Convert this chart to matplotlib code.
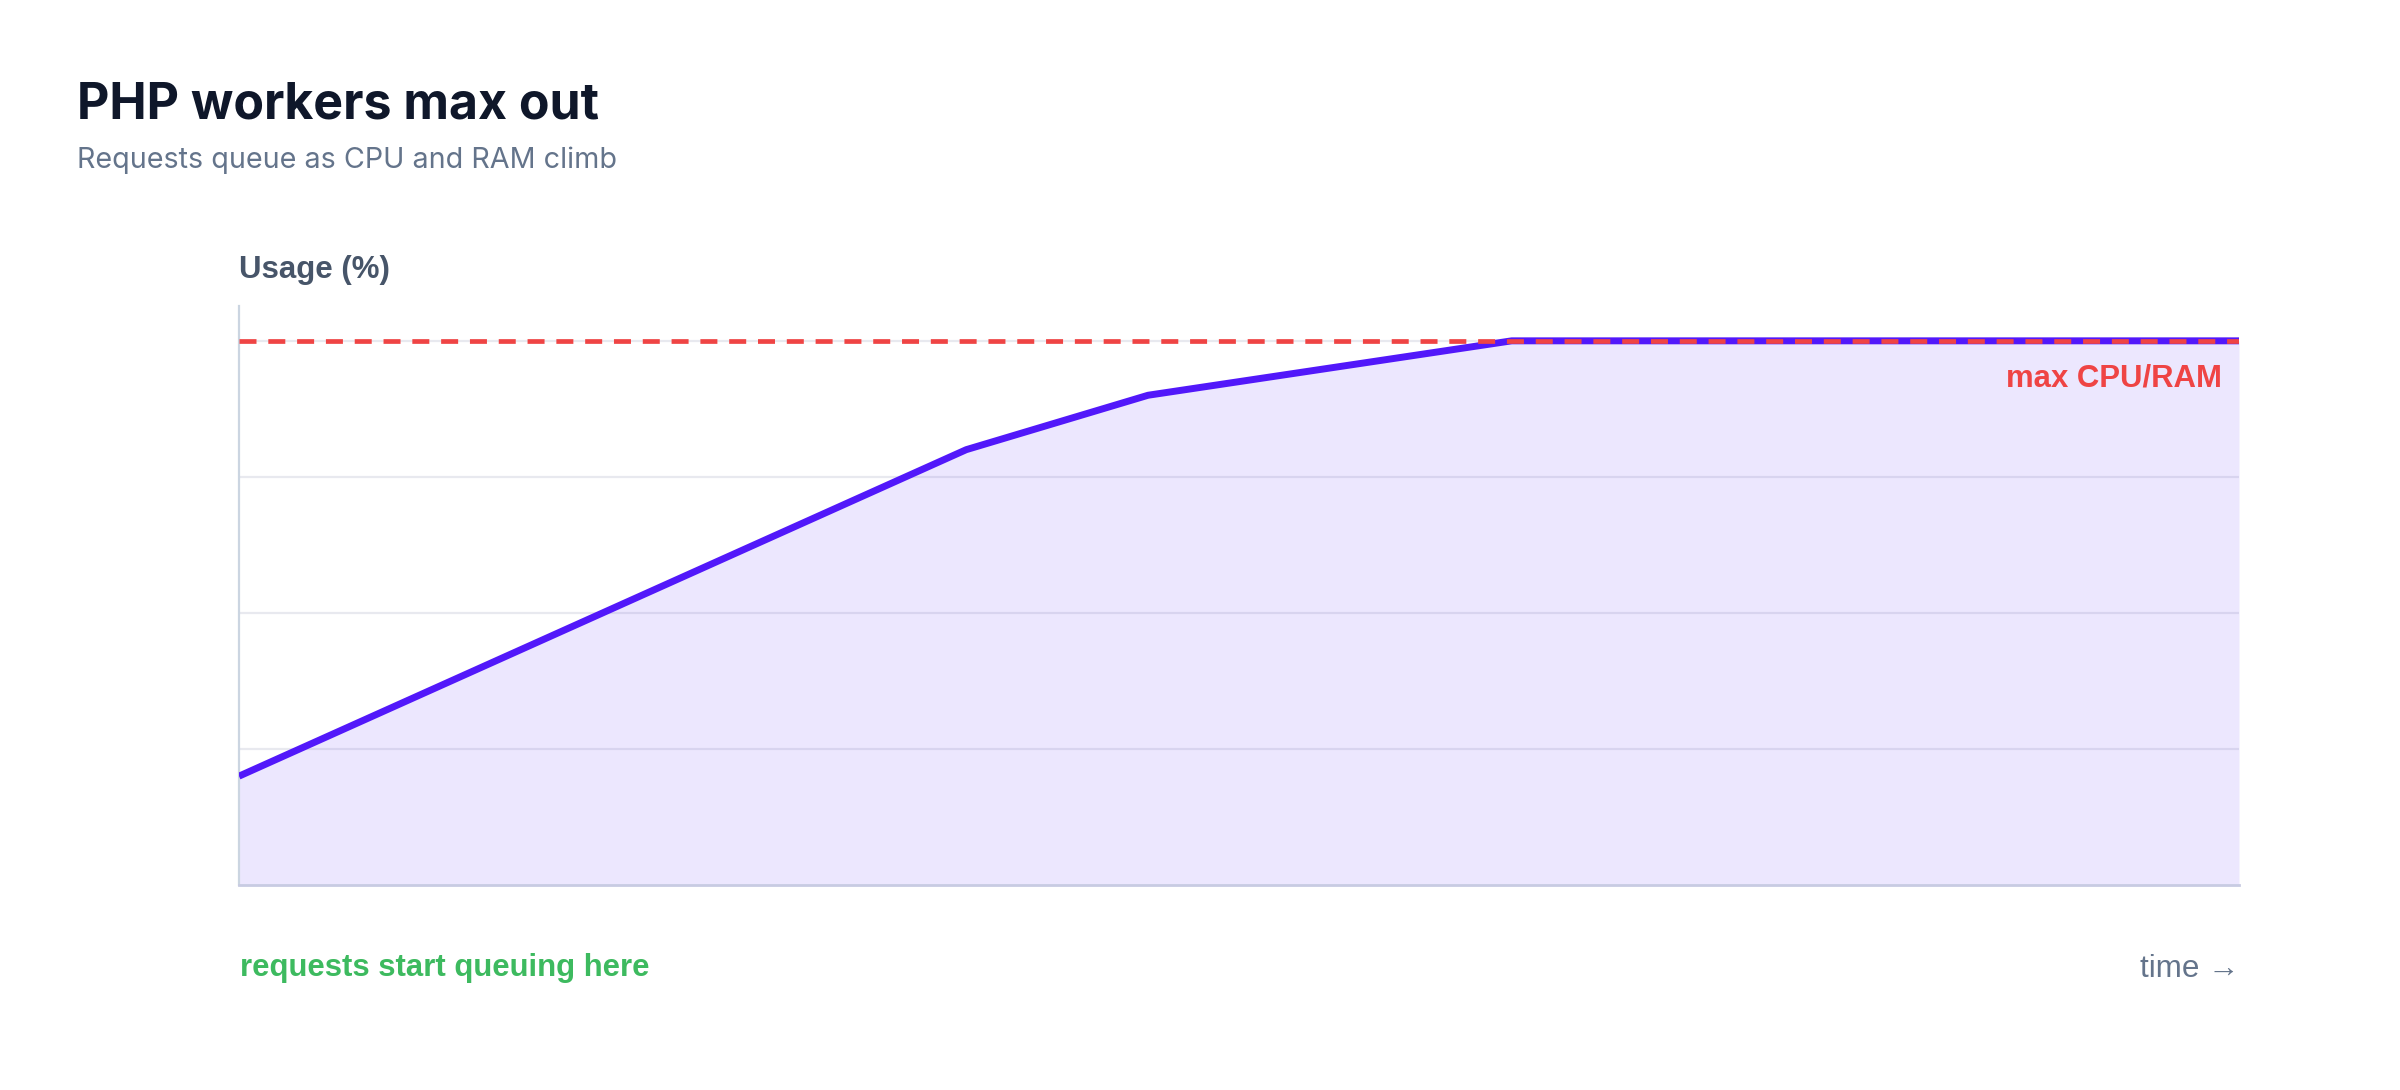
import matplotlib
matplotlib.use("Agg")
import matplotlib.pyplot as plt

# ---- data ----
time_steps = [0, 1, 2, 3, 4, 5, 6, 7, 8, 9, 10, 11]
usage = [20, 35, 50, 65, 80, 90, 95, 100, 100, 100, 100, 100]
max_level = 100
grid_levels = [25, 50, 75, 100]

title = "PHP workers max out"
subtitle = "Requests queue as CPU and RAM climb"
y_label = "Usage (%)"
max_label = "max CPU/RAM"
queue_label = "requests start queuing here"
time_label = "time \u2192"

W, H = 2400, 1090
fig = plt.figure(figsize=(W / 100, H / 100), dpi=100)
fig.patch.set_facecolor("white")

def fx(px):
    return px / W

def fy(py):
    return 1 - py / H

ax_left, ax_right, ax_top, ax_bottom = 239, 2239, 306, 885
ax = fig.add_axes([fx(ax_left), fy(ax_bottom), fx(ax_right - ax_left), (ax_bottom - ax_top) / H])
ax.set_facecolor("none")

ax.set_xlim(time_steps[0], time_steps[-1])
ax.set_ylim(0, 106.4)

for g in grid_levels:
    ax.axhline(g, color="#e8e9ef", lw=1.6, zorder=1)

ax.fill_between(time_steps, usage, 0, color="#5b2cf6", alpha=0.11, lw=0, zorder=2)
ax.plot(time_steps, usage, color="#5218fa", lw=5.0, solid_joinstyle="round",
        solid_capstyle="butt", zorder=3)
ax.axhline(max_level, color="#ef4444", lw=3.4, dashes=(3.6, 2.5), zorder=4)

for s in ["top", "right"]:
    ax.spines[s].set_visible(False)
ax.spines["left"].set_color("#cbd5e1")
ax.spines["left"].set_linewidth(1.6)
ax.spines["bottom"].set_color("#c8cbe2")
ax.spines["bottom"].set_linewidth(2.0)
ax.set_xticks([])
ax.set_yticks([])

ax.annotate(max_label, xy=(time_steps[-1], max_level), xycoords="data",
            xytext=(-17 * 0.72, -46 * 0.72), textcoords="offset points",
            ha="right", va="baseline", fontsize=22.4, fontweight="bold",
            color="#ef4444", family=["Liberation Sans", "DejaVu Sans"])

fig.text(fx(77), fy(118), title, fontsize=36, fontweight="bold", color="#0f172a",
         family=["Inter", "DejaVu Sans"], ha="left", va="baseline")
fig.text(fx(77), fy(168), subtitle, fontsize=20.7, color="#64748b",
         family=["Inter", "DejaVu Sans"], ha="left", va="baseline")
fig.text(fx(239), fy(278), y_label, fontsize=22.5, fontweight="bold", color="#475569",
         family=["Liberation Sans", "DejaVu Sans"], ha="left", va="baseline")
fig.text(fx(240), fy(976), queue_label, fontsize=22.4, fontweight="bold", color="#3dba5f",
         family=["Liberation Sans", "DejaVu Sans"], ha="left", va="baseline")
fig.text(fx(2240), fy(977), time_label, fontsize=22.6, color="#64748b",
         family=["Liberation Sans", "DejaVu Sans"], ha="right", va="baseline")

fig.savefig("out.png", dpi=100, facecolor="white")
